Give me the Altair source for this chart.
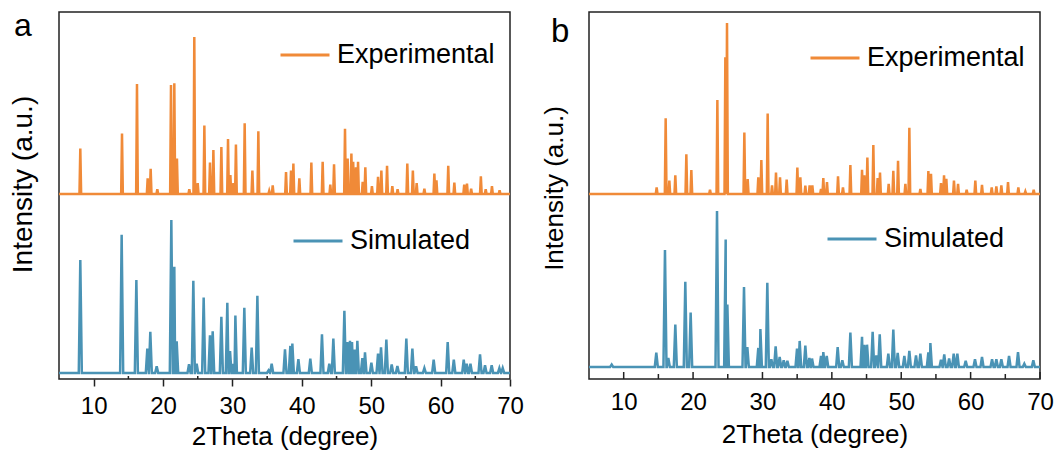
import altair as alt
import pandas as pd

# ---------------- data ----------------
A_EXP_POS = [8.07, 14.08, 16.24, 17.78, 18.21, 19.17, 21.14, 21.62, 22.0, 23.78, 24.5, 24.99, 25.95, 26.76,
             27.25, 28.4, 29.36, 29.7, 30.13, 30.5, 31.76, 32.87, 33.73, 35.3, 35.8, 37.72, 38.44, 38.78,
             39.64, 41.37, 43.0, 44.1, 44.64, 46.22, 46.6, 47.14, 47.4, 47.8, 48.1, 48.77, 49.15, 50.1,
             50.98, 51.46, 52.28, 53.04, 53.8, 55.2, 56.0, 56.55, 57.66, 59.1, 59.4, 61.1, 61.98, 63.4,
             63.8, 64.4, 65.8, 66.5, 67.4, 68.5]
A_EXP_INT = [29, 38.6, 70, 10, 16, 3, 69.5, 70.6, 22.6, 3, 100, 7, 43.7, 20, 28, 30, 35, 12, 7, 31.5, 45,
             15, 40, 2, 5.5, 14, 15, 19.4, 10, 20, 20.5, 6, 19, 41.6, 22.6, 25.8, 20.5, 17, 20.5, 7.7, 17,
             5, 11, 15, 18, 5, 3, 19.4, 15, 7, 3.4, 13, 8.7, 18, 7.2, 6, 6.6, 3.4, 11.3, 3, 5, 2.3]

A_SIM_POS = [8.07, 14.03, 16.15, 17.73, 18.16, 19.08, 21.19, 21.62, 21.96, 23.74, 24.36, 24.84, 25.85,
             26.76, 27.15, 28.4, 29.26, 29.65, 30.08, 30.42, 31.71, 32.77, 33.59, 35.2, 35.65, 37.57,
             38.34, 38.63, 39.5, 41.22, 42.9, 43.96, 44.54, 46.13, 46.56, 46.94, 47.23, 47.6, 48.0,
             48.72, 49.1, 50.02, 50.98, 51.41, 52.18, 52.95, 53.77, 55.06, 55.93, 56.46, 57.66, 59.0,
             61.02, 61.9, 63.33, 63.76, 64.3, 65.68, 66.4, 67.36, 68.47, 68.95]
A_SIM_INT = [73.8, 90.4, 60.7, 16, 27, 4.4, 100, 69.4, 20.7, 5.7, 60.3, 6, 49.3, 24.7, 27.3, 36.7, 45.9,
             14.4, 6, 37.6, 42.6, 16.6, 50.4, 1.7, 6, 15.5, 17.7, 19.2, 9, 9.4, 25.3, 6, 22.5, 40.6, 20.3,
             21, 20.3, 15.3, 21, 9.8, 13.5, 6.8, 12.7, 16.8, 21.8, 5.5, 4.6, 22.5, 16, 4.4, 3.3, 8.7,
             20.3, 8.7, 8.7, 6, 6, 12.2, 5, 5, 3.3, 3.3]

B_EXP_POS = [14.75, 16.05, 16.58, 17.44, 19.03, 19.75, 22.44, 23.5, 24.65, 24.89, 27.39, 27.87, 29.4,
             29.84, 30.75, 31.38, 31.95, 32.53, 33.49, 35.03, 35.46, 36.18, 36.8, 37.19, 38.44, 38.77,
             39.3, 40.89, 41.6, 42.67, 44.35, 44.68, 45.12, 45.98, 46.6, 46.94, 48.19, 48.86, 49.54,
             50.6, 51.17, 52.76, 53.91, 54.29, 55.73, 56.17, 56.5, 57.6, 58.19, 59.43, 60.68, 61.64,
             63.04, 63.71, 64.43, 65.39, 66.88, 67.89, 69.09]
B_EXP_INT = [3.9, 44.3, 7.8, 10.9, 23.3, 14, 2.5, 55, 80, 100, 36, 8.7, 9.7, 19.8, 47, 5, 12.6, 9.7, 8.5,
             15.5, 9.7, 4.9, 5, 5, 3, 9.3, 7, 10.3, 3.9, 16.9, 14.2, 10.9, 21.4, 28.7, 9.3, 12.6, 6, 13.6,
             19.4, 6, 38.8, 2.9, 13.4, 11.8, 6.4, 10.9, 8.9, 7.8, 6, 2.5, 7.8, 5.4, 3.9, 4.5, 5, 7, 3.9,
             1.5, 2.5]

B_SIM_POS = [8.27, 14.7, 15.95, 16.43, 17.44, 18.88, 19.65, 23.45, 24.7, 24.94, 27.34, 27.82, 29.4, 29.7,
             30.7, 31.28, 31.9, 32.48, 33.06, 33.59, 34.98, 35.36, 36.18, 36.76, 37.14, 38.44, 38.77,
             39.26, 40.84, 41.51, 42.67, 44.35, 44.68, 45.07, 45.88, 46.41, 46.9, 48.14, 48.86, 49.49,
             50.45, 51.17, 52.13, 52.76, 53.91, 54.2, 55.73, 56.2, 56.9, 57.56, 58.09, 59.29, 60.63,
             61.64, 63.09, 63.71, 64.43, 65.54, 66.83, 67.74, 69.04]
B_SIM_INT = [1.5, 9.2, 75, 5.8, 27.2, 54.6, 34.9, 100, 81.8, 40, 51.2, 12.8, 12.2, 24.4, 54, 4.9, 13.3,
             6.4, 4.3, 3.9, 11.8, 16.7, 13.7, 5.8, 5.4, 7.1, 9.6, 7.1, 12.8, 4.3, 22, 19.3, 14.3, 14.3,
             22.5, 7.5, 21, 8.6, 24, 9, 7.1, 10.3, 7.5, 8.6, 9.4, 15.4, 4.7, 8.1, 5.4, 8.6, 8.6, 3.9,
             4.9, 6.4, 4.9, 4.9, 4.9, 7.1, 9.6, 2.1, 4.3]

MAJOR_TICKS = [10, 20, 30, 40, 50, 60, 70]
MINOR_TICKS = [15, 25, 35, 45, 55, 65]
X_RANGE = [5, 70]

# ---------------- styles ----------------
ORANGE = "#F08A38"
BLUE = "#4A93B5"
FRAME = "#222222"
FONT = "Liberation Sans"
W, H = 451, 367
YDOM = [0, 367]


def profile(pos, inten, base, scale, hw, series):
    rows = [(X_RANGE[0], base), (X_RANGE[1], base)]
    for p, v in zip(pos, inten, strict=True):
        rows += [(p - hw, base), (p, base + v * scale), (p + hw, base)]
    rows.sort()
    return pd.DataFrame({"x": [r[0] for r in rows], "y": [r[1] for r in rows], "series": series})


XSCALE = alt.Scale(domain=X_RANGE, nice=False, zero=False)
YSCALE = alt.Scale(domain=YDOM, nice=False, zero=False)


def legend(lx, ly):
    return alt.Legend(title=None, orient="none", legendX=lx, legendY=ly, symbolType="stroke",
                      symbolSize=2401, symbolStrokeWidth=3, labelFontSize=27, labelFont=FONT,
                      labelColor="#000000", labelOffset=6, padding=0)


def panel(letter, exp_df, sim_df, cfg):
    xaxis = alt.Axis(values=MAJOR_TICKS, format="d", title="2Theta (degree)", grid=False, domain=False,
                     ticks=cfg["axis_ticks"], tickSize=cfg["tick_size"], tickColor=FRAME, tickWidth=1.5,
                     labelFontSize=24, labelFont=FONT, labelColor="#000000",
                     labelBaseline="alphabetic", labelPadding=cfg["label_pad"], labelFlush=False,
                     titleFontSize=26, titleFont=FONT, titleFontWeight="normal", titleColor="#000000",
                     titleBaseline="alphabetic", titleY=cfg["xtitle_y"])
    yaxis = alt.Axis(title="Intensity (a.u.)", labels=False, ticks=False, domain=False, grid=False,
                     titleFontSize=cfg["ytitle_size"], titleFont=FONT, titleFontWeight="normal",
                     titleColor="#000000", titleAngle=270, titleAlign="center",
                     titleBaseline="alphabetic", titleX=cfg["ytitle_x"], titleY=cfg["ytitle_y"])

    xenc = alt.X("x:Q", scale=XSCALE, axis=xaxis)

    exp = alt.Chart(exp_df).mark_line(strokeWidth=2.5).encode(
        x=xenc,
        y=alt.Y("y:Q", scale=YSCALE, axis=yaxis),
        color=alt.Color("series:N", scale=alt.Scale(domain=["Experimental"], range=[ORANGE]),
                        legend=legend(*cfg["exp_leg"])),
    )
    sim = alt.Chart(sim_df).mark_line(strokeWidth=2.5).encode(
        x=xenc,
        y=alt.Y("y:Q", scale=YSCALE, axis=yaxis),
        color=alt.Color("series:N", scale=alt.Scale(domain=["Simulated"], range=[BLUE]),
                        legend=legend(*cfg["sim_leg"])),
    )
    layers = [exp, sim]
    for ticks, length in cfg["inner_ticks"]:
        layers.append(
            alt.Chart(pd.DataFrame({"x": ticks})).mark_rule(color=FRAME, strokeWidth=1.5).encode(
                x=xenc,
                y=alt.value(H - length), y2=alt.value(H),
            )
        )
    lab = alt.Chart(pd.DataFrame({"t": [letter]})).mark_text(
        align="left", baseline="alphabetic", fontSize=cfg["letter_size"], font=FONT, color="#000000"
    ).encode(text="t:N", x=alt.value(cfg["letter"][0]), y=alt.value(cfg["letter"][1]))
    layers.append(lab)

    return alt.layer(*layers).resolve_scale(color="independent").properties(width=W, height=H)


a_exp = profile(A_EXP_POS, A_EXP_INT, 185, 1.57, 0.12, "Experimental")
a_sim = profile(A_SIM_POS, A_SIM_INT, 6, 1.53, 0.22, "Simulated")
b_exp = profile(B_EXP_POS, B_EXP_INT, 185, 1.71, 0.12, "Experimental")
b_sim = profile(B_SIM_POS, B_SIM_INT, 12, 1.56, 0.22, "Simulated")

pa = panel("a", a_exp, a_sim, dict(
    axis_ticks=True, tick_size=7, label_pad=27, xtitle_y=65,
    ytitle_size=28, ytitle_x=-28, ytitle_y=172,
    exp_leg=(220, 17), sim_leg=(233, 203), inner_ticks=[(MINOR_TICKS, 3)],
    letter=(-45, 24), letter_size=32))
pb = panel("b", b_exp, b_sim, dict(
    axis_ticks=False, tick_size=0, label_pad=30, xtitle_y=63,
    ytitle_size=26, ytitle_x=-27, ytitle_y=176,
    exp_leg=(220, 20), sim_leg=(237, 201), inner_ticks=[(MAJOR_TICKS, 7), (MINOR_TICKS, 5)],
    letter=(-38, 30), letter_size=33))

chart = alt.hconcat(pa, pb, spacing=79, bounds="flush").resolve_scale(
    color="independent"
).properties(
    padding={"left": 8, "top": 9, "right": 2, "bottom": 0}
).configure(font=FONT).configure_view(stroke=FRAME, strokeWidth=1.5)

chart.save("out.html", embed_options={"renderer": "svg", "actions": False})
